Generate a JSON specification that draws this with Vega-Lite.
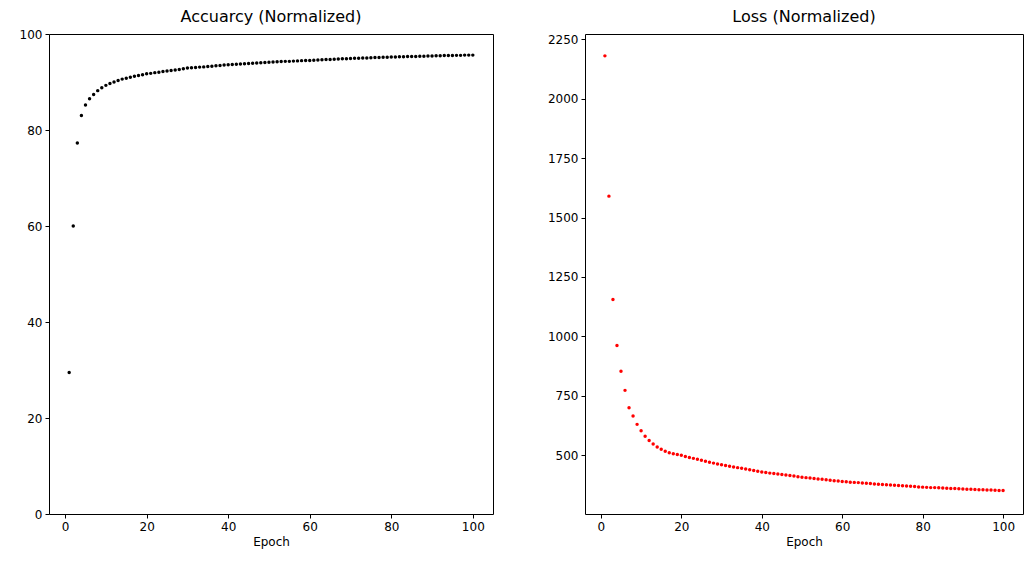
{
  "$schema": "https://vega.github.io/schema/vega-lite/v6.json",
  "padding": {"left": 18, "top": 8, "right": 5, "bottom": 5},
  "spacing": 52,
  "data": {
    "values": [
      {"epoch": 1, "acc": 29.5, "loss": 2180}, {"epoch": 2, "acc": 60.0, "loss": 1590},
      {"epoch": 3, "acc": 77.3, "loss": 1155}, {"epoch": 4, "acc": 83.0, "loss": 962},
      {"epoch": 5, "acc": 85.2, "loss": 853}, {"epoch": 6, "acc": 86.5, "loss": 773},
      {"epoch": 7, "acc": 87.4, "loss": 700}, {"epoch": 8, "acc": 88.2, "loss": 665},
      {"epoch": 9, "acc": 88.8, "loss": 630}, {"epoch": 10, "acc": 89.3, "loss": 603},
      {"epoch": 11, "acc": 89.7, "loss": 580}, {"epoch": 12, "acc": 90.0, "loss": 562},
      {"epoch": 13, "acc": 90.3, "loss": 547}, {"epoch": 14, "acc": 90.6, "loss": 535},
      {"epoch": 15, "acc": 90.8, "loss": 525}, {"epoch": 16, "acc": 91.0, "loss": 517},
      {"epoch": 17, "acc": 91.2, "loss": 511}, {"epoch": 18, "acc": 91.35, "loss": 506},
      {"epoch": 19, "acc": 91.5, "loss": 503}, {"epoch": 20, "acc": 91.7, "loss": 500},
      {"epoch": 21, "acc": 91.8, "loss": 495}, {"epoch": 22, "acc": 91.95, "loss": 491},
      {"epoch": 23, "acc": 92.05, "loss": 487}, {"epoch": 24, "acc": 92.2, "loss": 483},
      {"epoch": 25, "acc": 92.3, "loss": 479}, {"epoch": 26, "acc": 92.4, "loss": 475},
      {"epoch": 27, "acc": 92.5, "loss": 471}, {"epoch": 28, "acc": 92.6, "loss": 467},
      {"epoch": 29, "acc": 92.75, "loss": 463}, {"epoch": 30, "acc": 92.9, "loss": 460},
      {"epoch": 31, "acc": 92.95, "loss": 457}, {"epoch": 32, "acc": 93.0, "loss": 454},
      {"epoch": 33, "acc": 93.1, "loss": 451}, {"epoch": 34, "acc": 93.15, "loss": 448},
      {"epoch": 35, "acc": 93.25, "loss": 445}, {"epoch": 36, "acc": 93.3, "loss": 442},
      {"epoch": 37, "acc": 93.4, "loss": 439}, {"epoch": 38, "acc": 93.45, "loss": 436},
      {"epoch": 39, "acc": 93.55, "loss": 433}, {"epoch": 40, "acc": 93.6, "loss": 430},
      {"epoch": 41, "acc": 93.65, "loss": 428}, {"epoch": 42, "acc": 93.7, "loss": 425},
      {"epoch": 43, "acc": 93.75, "loss": 423}, {"epoch": 44, "acc": 93.8, "loss": 421},
      {"epoch": 45, "acc": 93.85, "loss": 419}, {"epoch": 46, "acc": 93.9, "loss": 417},
      {"epoch": 47, "acc": 93.95, "loss": 415}, {"epoch": 48, "acc": 94.0, "loss": 413},
      {"epoch": 49, "acc": 94.05, "loss": 410}, {"epoch": 50, "acc": 94.1, "loss": 408},
      {"epoch": 51, "acc": 94.15, "loss": 406}, {"epoch": 52, "acc": 94.2, "loss": 404},
      {"epoch": 53, "acc": 94.25, "loss": 402}, {"epoch": 54, "acc": 94.3, "loss": 400},
      {"epoch": 55, "acc": 94.3, "loss": 399}, {"epoch": 56, "acc": 94.35, "loss": 397},
      {"epoch": 57, "acc": 94.4, "loss": 395}, {"epoch": 58, "acc": 94.45, "loss": 393},
      {"epoch": 59, "acc": 94.5, "loss": 392}, {"epoch": 60, "acc": 94.5, "loss": 390},
      {"epoch": 61, "acc": 94.55, "loss": 389}, {"epoch": 62, "acc": 94.6, "loss": 387},
      {"epoch": 63, "acc": 94.65, "loss": 386}, {"epoch": 64, "acc": 94.7, "loss": 385},
      {"epoch": 65, "acc": 94.7, "loss": 383}, {"epoch": 66, "acc": 94.75, "loss": 382},
      {"epoch": 67, "acc": 94.8, "loss": 381}, {"epoch": 68, "acc": 94.85, "loss": 379},
      {"epoch": 69, "acc": 94.85, "loss": 378}, {"epoch": 70, "acc": 94.9, "loss": 377},
      {"epoch": 71, "acc": 94.95, "loss": 376}, {"epoch": 72, "acc": 94.95, "loss": 375},
      {"epoch": 73, "acc": 95.0, "loss": 374}, {"epoch": 74, "acc": 95.0, "loss": 373},
      {"epoch": 75, "acc": 95.05, "loss": 372}, {"epoch": 76, "acc": 95.1, "loss": 371},
      {"epoch": 77, "acc": 95.1, "loss": 370}, {"epoch": 78, "acc": 95.15, "loss": 369},
      {"epoch": 79, "acc": 95.15, "loss": 367}, {"epoch": 80, "acc": 95.2, "loss": 366},
      {"epoch": 81, "acc": 95.2, "loss": 365}, {"epoch": 82, "acc": 95.25, "loss": 364},
      {"epoch": 83, "acc": 95.25, "loss": 364}, {"epoch": 84, "acc": 95.3, "loss": 363},
      {"epoch": 85, "acc": 95.3, "loss": 362}, {"epoch": 86, "acc": 95.3, "loss": 361},
      {"epoch": 87, "acc": 95.35, "loss": 360}, {"epoch": 88, "acc": 95.35, "loss": 360},
      {"epoch": 89, "acc": 95.4, "loss": 359}, {"epoch": 90, "acc": 95.4, "loss": 358},
      {"epoch": 91, "acc": 95.45, "loss": 357}, {"epoch": 92, "acc": 95.45, "loss": 357},
      {"epoch": 93, "acc": 95.5, "loss": 356}, {"epoch": 94, "acc": 95.5, "loss": 355},
      {"epoch": 95, "acc": 95.5, "loss": 355}, {"epoch": 96, "acc": 95.55, "loss": 354},
      {"epoch": 97, "acc": 95.55, "loss": 354}, {"epoch": 98, "acc": 95.6, "loss": 353},
      {"epoch": 99, "acc": 95.6, "loss": 352}, {"epoch": 100, "acc": 95.6, "loss": 352}
    ]
  },
  "hconcat": [
    {
      "title": {"text": "Accuarcy (Normalized)", "offset": 3},
      "width": 444,
      "height": 480,
      "mark": {"type": "point", "filled": true, "size": 12, "color": "black", "opacity": 1},
      "encoding": {
        "x": {"field": "epoch", "type": "quantitative", "title": "Epoch",
              "scale": {"domain": [-3.95, 104.95], "nice": false, "zero": false},
              "axis": {"values": [0, 20, 40, 60, 80, 100], "format": "d"}},
        "y": {"field": "acc", "type": "quantitative", "title": null,
              "scale": {"domain": [0, 100], "nice": false},
              "axis": {"values": [0, 20, 40, 60, 80, 100], "format": "d"}}
      }
    },
    {
      "title": {"text": "Loss (Normalized)", "offset": 8},
      "width": 438,
      "height": 480,
      "mark": {"type": "point", "filled": true, "size": 12, "color": "red", "opacity": 1},
      "encoding": {
        "x": {"field": "epoch", "type": "quantitative", "title": "Epoch",
              "scale": {"domain": [-3.95, 104.95], "nice": false, "zero": false},
              "axis": {"values": [0, 20, 40, 60, 80, 100], "format": "d"}},
        "y": {"field": "loss", "type": "quantitative", "title": null,
              "scale": {"domain": [253, 2272], "nice": false, "zero": false},
              "axis": {"values": [500, 750, 1000, 1250, 1500, 1750, 2000, 2250], "format": "d"}}
      }
    }
  ],
  "config": {
    "font": "DejaVu Sans",
    "view": {"stroke": "black", "strokeWidth": 1},
    "title": {"fontSize": 16, "fontWeight": "normal", "color": "black"},
    "axis": {
      "grid": false, "domain": false, "tickColor": "black", "tickSize": 4,
      "labelFontSize": 12, "labelColor": "black", "labelPadding": 3,
      "titleFontSize": 12, "titleFontWeight": "normal", "titleColor": "black", "titlePadding": 4
    }
  }
}
